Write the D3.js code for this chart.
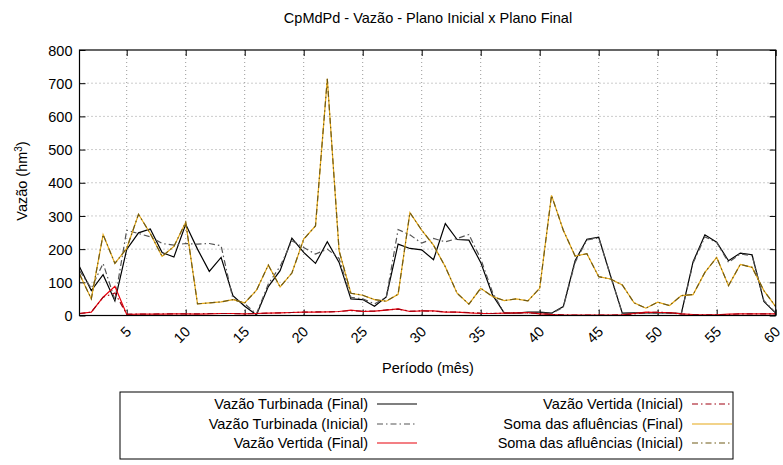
<!DOCTYPE html>
<html><head><meta charset="utf-8">
<script src="https://cdn.jsdelivr.net/npm/d3@7"></script>
<style>body{margin:0;background:#fff}svg text{font-family:"Liberation Sans",Arial,sans-serif;font-size:14.5px;fill:#000}</style>
</head><body>
<svg id="c" width="783" height="465"></svg>
<script>
const months = [1,2,3,4,5,6,7,8,9,10,11,12,13,14,15,16,17,18,19,20,21,22,23,24,25,26,27,28,29,30,31,32,33,34,35,36,37,38,39,40,41,42,43,44,45,46,47,48,49,50,51,52,53,54,55,56,57,58,59,60];
const turbFinal = [147,75,123,44,199,249,261,190,176,275,200,133,175,60,28,2,87,135,233,190,157,222,160,50,48,28,56,215,202,198,168,277,229,227,160,62,7,7,10,10,7,27,165,230,236,120,7,8,8,8,8,6,162,243,221,165,188,183,42,7];
const turbInicial = [135,82,157,47,257,247,237,217,212,217,215,217,210,50,35,5,95,148,225,205,185,200,172,55,50,35,55,259,243,218,232,222,232,244,171,70,7,7,8,8,6,25,160,228,234,120,6,7,7,7,7,5,158,237,220,160,186,180,45,8];
const vertFinal = [6,10,55,88,3,4,4,4,5,5,4,5,6,6,5,6,7,8,9,10,10,11,12,16,12,13,16,20,12,14,14,10,10,8,6,6,7,8,9,5,3,1,1,1,1,1,2,6,10,9,9,5,3,2,2,4,5,5,5,5];
const vertInicial = [6,10,55,68,4,4,4,5,5,5,5,6,6,6,5,6,7,8,9,10,11,11,12,15,13,13,17,19,13,14,13,11,10,9,7,6,7,8,8,6,3,2,1,1,1,1,2,5,9,10,8,5,3,2,2,3,5,5,5,5];
const somaFinal = [125,50,244,157,202,305,247,178,208,281,35,38,41,48,38,76,152,86,128,230,270,713,195,67,61,48,43,64,310,257,212,147,67,34,82,57,45,50,44,82,362,257,179,186,117,110,92,38,22,40,30,60,63,130,175,90,154,145,75,27];
const somaInicial = [125,50,244,157,202,305,247,178,208,281,35,38,41,48,38,76,152,86,128,230,270,713,195,67,61,48,43,64,310,257,212,147,67,34,82,57,45,50,44,82,362,257,179,186,117,110,92,38,22,40,30,60,63,130,175,90,154,145,75,27];
const yTicks = [0,100,200,300,400,500,600,700,800];
const xTicks = [5,10,15,20,25,30,35,40,45,50,55,60];
const seriesNames = ["Vazão Turbinada (Final)","Vazão Turbinada (Inicial)","Vazão Vertida (Final)","Vazão Vertida (Inicial)","Soma das afluências (Final)","Soma das afluências (Inicial)"];

const FS = 14.5;
const svg = d3.select("#c");
const L=79.5, R=775.7, T=50, B=315.5;
const x = d3.scaleLinear().domain([1,60]).range([L,R]);
const y = d3.scaleLinear().domain([0,800]).range([B,T]);

// grid
const g = svg.append("g");
g.selectAll(".gy").data(yTicks.filter(v=>v>0&&v<800)).enter().append("line")
 .attr("x1",L).attr("x2",R).attr("y1",d=>y(d)).attr("y2",d=>y(d))
 .attr("stroke","#999").attr("stroke-width",1).attr("stroke-dasharray","1,3");
g.selectAll(".gx").data(xTicks.filter(v=>v<60)).enter().append("line")
 .attr("y1",T).attr("y2",B).attr("x1",d=>x(d)).attr("x2",d=>x(d))
 .attr("stroke","#999").attr("stroke-width",1).attr("stroke-dasharray","1,3");

// axes with inward ticks
const axL = svg.append("g").attr("transform",`translate(${L},0)`)
 .call(d3.axisLeft(y).tickValues(yTicks).tickSize(-6).tickPadding(7).tickFormat(d3.format("d")));
const axR = svg.append("g").attr("transform",`translate(${R},0)`)
 .call(d3.axisRight(y).tickValues(yTicks).tickSize(-6).tickFormat(""));
const axB = svg.append("g").attr("transform",`translate(0,${B})`)
 .call(d3.axisBottom(x).tickValues(xTicks).tickSize(-6).tickFormat(d3.format("d")));
const axT = svg.append("g").attr("transform",`translate(0,${T})`)
 .call(d3.axisTop(x).tickValues(xTicks).tickSize(-6).tickFormat(""));
[axL,axR,axB,axT].forEach(a=>{a.select(".domain").remove();a.selectAll("line").attr("stroke","#000");a.selectAll("text").attr("font-size",FS).attr("font-family","Liberation Sans, Arial, sans-serif").attr("fill","#000");});
axL.selectAll("text").attr("dy","0.35em");
axB.selectAll("text").attr("text-anchor","end").attr("dy",0).attr("y",0)
 .attr("transform","translate(5,17) rotate(-45)");

// series
const line = d3.line().x((d,i)=>x(months[i])).y(d=>y(d));
const styles = [
 {data:turbFinal, color:"#000", dash:null, w:1.2},
 {data:turbInicial, color:"#555", dash:"6,3,1.5,3", w:1.2},
 {data:vertFinal, color:"#e8000b", dash:null, w:1.2},
 {data:vertInicial, color:"#a00010", dash:"6,3,1.5,3", w:1.2},
 {data:somaFinal, color:"#e6a817", dash:null, w:1.2},
 {data:somaInicial, color:"#6e5a17", dash:"6,3,1.5,3", w:1.2}
];
const plot = svg.append("g");
styles.forEach(s=>{
 plot.append("path").datum(s.data).attr("d",line).attr("fill","none")
  .attr("stroke",s.color).attr("stroke-width",s.w).attr("stroke-dasharray",s.dash);
});

// border
svg.append("rect").attr("x",L).attr("y",T).attr("width",R-L).attr("height",B-T)
 .attr("fill","none").attr("stroke","#000").attr("stroke-width",1.2);

// title and labels
svg.append("text").attr("x",428).attr("y",23).attr("text-anchor","middle").text("CpMdPd - Vazão - Plano Inicial x Plano Final");
svg.append("text").attr("x",428).attr("y",373).attr("text-anchor","middle").text("Período (mês)");
const yl = svg.append("text").attr("transform","translate(27,181) rotate(-90)").attr("text-anchor","middle");
yl.append("tspan").text("Vazão (hm");
yl.append("tspan").attr("dy",-5).attr("font-size",10).text("3");
yl.append("tspan").attr("dy",5).text(")");

// legend
svg.append("rect").attr("x",120).attr("y",392).attr("width",613).attr("height",67)
 .attr("fill","none").attr("stroke","#000").attr("stroke-width",1);
const legPos = [[368,404],[368,424],[368,443],[683,404],[683,424],[683,443]];
styles.forEach((s,i)=>{
 const [tx,ty]=legPos[i];
 svg.append("text").attr("x",tx).attr("y",ty).attr("dy","0.35em").attr("text-anchor","end").text(seriesNames[i]);
 svg.append("line").attr("x1",tx+9).attr("x2",tx+49).attr("y1",ty).attr("y2",ty)
  .attr("stroke",s.color).attr("stroke-width",s.w).attr("stroke-dasharray",s.dash);
});
</script>
</body></html>
